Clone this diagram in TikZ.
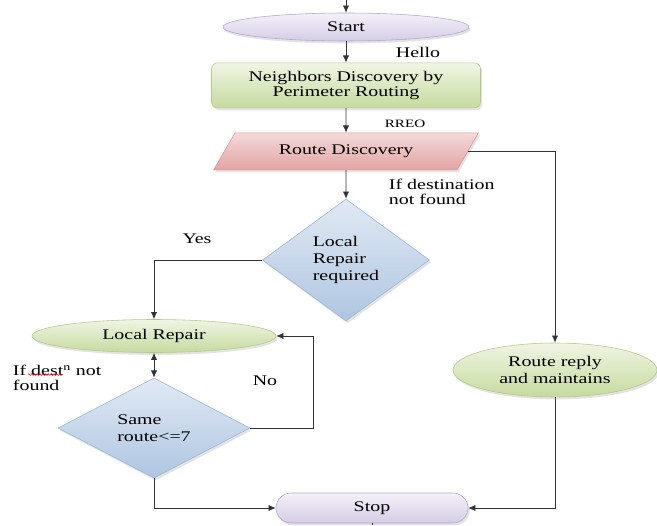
\documentclass[tikz,border=0pt]{standalone}
\usepackage{fontspec}
\setmainfont{Liberation Serif}[FakeStretch=1.35]
\usepackage{tikz}
\usetikzlibrary{shapes.geometric, shapes.misc, shadows, arrows.meta, decorations.pathmorphing}

\definecolor{lavtop}{HTML}{F4F1F9}
\definecolor{lavbot}{HTML}{D6CCE6}
\definecolor{lavline}{HTML}{B4A5CC}
\definecolor{grntop}{HTML}{F0F5E4}
\definecolor{grnbot}{HTML}{C6DA9E}
\definecolor{grnline}{HTML}{B3C98A}
\definecolor{pnktop}{HTML}{F4D9D9}
\definecolor{pnkbot}{HTML}{E3A4A4}
\definecolor{pnkline}{HTML}{D99694}
\definecolor{blutop}{HTML}{E1E9F4}
\definecolor{blubot}{HTML}{AFC6E1}
\definecolor{bluline}{HTML}{9AB5D8}

\tikzset{
  shade/.style={drop shadow={opacity=0.22, shadow xshift=0.04cm, shadow yshift=-0.06cm}},
  terminal/.style={ellipse, draw=lavline, top color=lavtop, bottom color=lavbot, shade, inner sep=0pt},
  greenbox/.style={draw=grnline, top color=grntop, bottom color=grnbot, shade, inner sep=0pt},
  iobox/.style={trapezium, trapezium left angle=45, trapezium right angle=135, trapezium stretches=true,
    draw=pnkline, top color=pnktop, bottom color=pnkbot, shade, inner sep=0pt},
  decision/.style={diamond, draw=bluline, top color=blutop, bottom color=blubot, shade, inner sep=0pt,
    align=left, font=\fontsize{10.5}{12}\selectfont},
  flow/.style={draw=black!80, line width=0.6pt, -{Latex[length=1.8mm, width=1.6mm]}},
  link/.style={draw=black!80, line width=0.6pt}
}

\begin{document}
\begin{tikzpicture}[every node/.style={font=\fontsize{10.5}{10.2}\selectfont}]
  \useasboundingbox (0,0) rectangle (16.425,13.125);

  % main column
  \coordinate (top) at (8.65,13.125);
  \node[terminal, minimum width=6.15cm, minimum height=0.7cm] (start) at (8.65,12.45) {Start};
  \node[greenbox, rounded corners=0.15cm, minimum width=6.725cm, minimum height=1.125cm, align=center]
    (nd) at (8.65,10.99) {Neighbors Discovery by\\Perimeter Routing};
  \node[iobox, minimum width=6.625cm, minimum height=0.925cm] (rd) at (8.65,9.34) {Route Discovery};
  \node[decision, minimum width=4.175cm, minimum height=3.05cm] (lrr) at (8.65,6.625) {Local\\Repair\\required};

  % repair branch
  \node[greenbox, ellipse, minimum width=6.1cm, minimum height=0.825cm] (lr) at (3.85,4.725) {Local Repair};
  \node[decision, minimum width=4.8cm, minimum height=1.775cm] (sr) at (3.85,2.425) {Same\\route<=7};

  % reply branch
  \node[greenbox, ellipse, minimum width=5.1cm, minimum height=1.35cm, align=center,
    font=\fontsize{10.5}{12}\selectfont] (rr) at (13.875,3.875) {Route reply\\and maintains};

  \node[terminal, rounded rectangle, minimum width=4.8cm, minimum height=0.75cm] (stop) at (9.3,0.425) {Stop};
  \coordinate (bottom) at (9.3,0);

  % labels
  \node (hello) at (10.45,11.825) {Hello};
  \node[font=\fontsize{8}{9}\selectfont] (rreo) at (10.125,10.025) {RREO};
  \node[anchor=west, align=left] (ifdest) at (9.6,8.325) {If destination\\not found};
  \node (yes) at (4.925,7.15) {Yes};
  \node[anchor=west, align=left] (ifdestn) at (0.2,3.675) {If dest\textsuperscript{n} not\\found};
  \node (no) at (6.625,3.6) {No};
  \draw[red, line width=0.3pt, decorate, decoration={snake, amplitude=0.25mm, segment length=0.7mm}]
    (0.7,3.76) -- (1.55,3.76);

  % connectors
  \draw[flow] (top) -- (start);
  \draw[flow] (start) -- (nd);
  \draw[flow] (nd) -- (rd);
  \draw[flow] (rd) -- (lrr);
  \draw[flow] (rd.east) -| (rr.north);
  \draw[flow] (lrr.west) -| (lr.north);
  \draw[flow, {Latex[length=1.8mm, width=1.6mm]}-{Latex[length=1.8mm, width=1.6mm]}] (lr) -- (sr);
  \draw[flow] (sr.east) -- ++(1.575,0) |- (lr.east);
  \draw[flow] (sr.south) |- (stop.west);
  \draw[flow] (rr.south) |- (stop.east);
  \draw[link] (stop.south) -- (bottom);
\end{tikzpicture}
\end{document}
